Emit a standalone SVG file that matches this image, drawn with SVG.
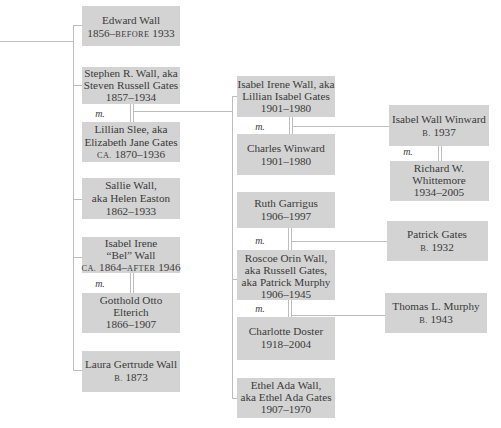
<svg xmlns="http://www.w3.org/2000/svg" width="501" height="428" viewBox="0 0 501 428">
<style>
.box{fill:#d3d3d3}
.t{font-family:"Liberation Serif","DejaVu Serif",serif;font-size:11.2px;fill:#3a3a3a;text-anchor:middle}
.sc{font-size:8.3px;letter-spacing:0.4px}
.m{font-family:"Liberation Serif","DejaVu Serif",serif;font-size:10px;font-style:italic;fill:#3a3a3a;text-anchor:middle}
.ln{stroke:#bdbdbd;stroke-width:1;fill:none}
</style>
<rect width="501" height="428" fill="#ffffff"/>
<g id="connectors">
<path class="ln" d="M0 41.5H73.5M73.5 25V370.5M73.5 25.5H82M73.5 85.5H82M73.5 199.5H82M73.5 257.5H82M73.5 370.5H82"/>
<path class="ln" d="M130.5 104V122M133.5 104V122M133.5 111.5H232.5M130.5 273V293M133.5 273V293"/>
<path class="ln" d="M232.5 96V398.5M232.5 96.5H237M232.5 279.5H237M232.5 398.5H237"/>
<path class="ln" d="M289.5 117V134M292.5 117V134M292.5 126.5H389"/>
<path class="ln" d="M288.5 228V250M291.5 228V250M291.5 241.5H387"/>
<path class="ln" d="M288.5 300V317M291.5 300V317M291.5 315.5H385"/>
<path class="ln" d="M438.5 146V161M441.5 146V161"/>
</g>
<g id="edward"><rect class="box" x="82" y="6" width="98" height="40"/>
<text class="t" x="131" y="24">Edward Wall</text>
<text class="t" x="131" y="37">1856–<tspan class="sc">BEFORE</tspan> 1933</text></g>
<g id="stephen"><rect class="box" x="82" y="67" width="98" height="37"/>
<text class="t" x="131" y="77">Stephen R. Wall, aka</text>
<text class="t" x="131" y="89">Steven Russell Gates</text>
<text class="t" x="131" y="101">1857–1934</text></g>
<text class="m" x="100" y="117">m.</text>
<g id="lillian"><rect class="box" x="82" y="122" width="98" height="40"/>
<text class="t" x="131" y="133">Lillian Slee, aka</text>
<text class="t" x="131" y="146">Elizabeth Jane Gates</text>
<text class="t" x="131" y="158"><tspan class="sc">CA.</tspan> 1870–1936</text></g>
<g id="sallie"><rect class="box" x="82" y="178" width="98" height="41"/>
<text class="t" x="131" y="189">Sallie Wall,</text>
<text class="t" x="131" y="202">aka Helen Easton</text>
<text class="t" x="131" y="215">1862–1933</text></g>
<g id="isabel-bel"><rect class="box" x="82" y="237" width="98" height="36"/>
<text class="t" x="131" y="247">Isabel Irene</text>
<text class="t" x="131" y="259">“Bel” Wall</text>
<text class="t" x="131" y="271"><tspan class="sc">CA.</tspan> 1864–<tspan class="sc">AFTER</tspan> 1946</text></g>
<text class="m" x="100" y="287">m.</text>
<g id="gotthold"><rect class="box" x="82" y="293" width="98" height="40"/>
<text class="t" x="131" y="304">Gotthold Otto</text>
<text class="t" x="131" y="316">Elterich</text>
<text class="t" x="131" y="328">1866–1907</text></g>
<g id="laura"><rect class="box" x="82" y="351" width="98" height="41"/>
<text class="t" x="131" y="368">Laura Gertrude Wall</text>
<text class="t" x="131" y="381"><tspan class="sc">B.</tspan> 1873</text></g>
<g id="isabel-irene"><rect class="box" x="237" y="76" width="98" height="41"/>
<text class="t" x="286" y="88">Isabel Irene Wall, aka</text>
<text class="t" x="286" y="100">Lillian Isabel Gates</text>
<text class="t" x="286" y="112">1901–1980</text></g>
<text class="m" x="260" y="130">m.</text>
<g id="charles"><rect class="box" x="237" y="134" width="98" height="41"/>
<text class="t" x="286" y="152">Charles Winward</text>
<text class="t" x="286" y="165">1901–1980</text></g>
<g id="ruth"><rect class="box" x="237" y="192" width="98" height="36"/>
<text class="t" x="286" y="207">Ruth Garrigus</text>
<text class="t" x="286" y="220">1906–1997</text></g>
<text class="m" x="260" y="244">m.</text>
<g id="roscoe"><rect class="box" x="237" y="250" width="98" height="50"/>
<text class="t" x="286" y="262">Roscoe Orin Wall,</text>
<text class="t" x="286" y="274">aka Russell Gates,</text>
<text class="t" x="286" y="286">aka Patrick Murphy</text>
<text class="t" x="286" y="298">1906–1945</text></g>
<text class="m" x="260" y="312">m.</text>
<g id="charlotte"><rect class="box" x="237" y="317" width="98" height="43"/>
<text class="t" x="286" y="335">Charlotte Doster</text>
<text class="t" x="286" y="348">1918–2004</text></g>
<g id="ethel"><rect class="box" x="237" y="378" width="98" height="40"/>
<text class="t" x="286" y="389">Ethel Ada Wall,</text>
<text class="t" x="286" y="401">aka Ethel Ada Gates</text>
<text class="t" x="286" y="413">1907–1970</text></g>
<g id="isabel-winward"><rect class="box" x="389" y="105" width="100" height="41"/>
<text class="t" x="439" y="123">Isabel Wall Winward</text>
<text class="t" x="439" y="136"><tspan class="sc">B.</tspan> 1937</text></g>
<text class="m" x="408" y="155">m.</text>
<g id="richard"><rect class="box" x="390" y="161" width="99" height="40"/>
<text class="t" x="439" y="172">Richard W.</text>
<text class="t" x="439" y="184">Whittemore</text>
<text class="t" x="439" y="196">1934–2005</text></g>
<g id="patrick"><rect class="box" x="387" y="221" width="101" height="40"/>
<text class="t" x="437" y="238">Patrick Gates</text>
<text class="t" x="437" y="251"><tspan class="sc">B.</tspan> 1932</text></g>
<g id="thomas"><rect class="box" x="385" y="293" width="102" height="40"/>
<text class="t" x="436" y="310">Thomas L. Murphy</text>
<text class="t" x="436" y="323"><tspan class="sc">B.</tspan> 1943</text></g>
</svg>
